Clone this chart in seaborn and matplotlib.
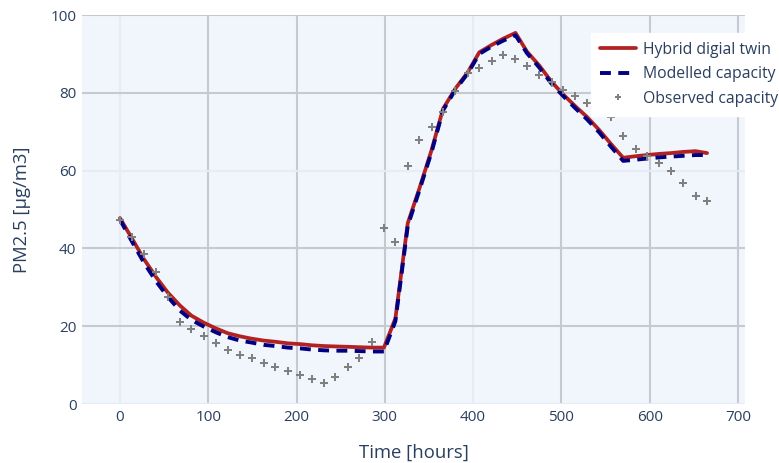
import matplotlib
matplotlib.use("Agg")
import matplotlib.pyplot as plt
import seaborn as sns
import pandas as pd
from matplotlib.lines import Line2D

# ---- data ----
time_hours = [0, 14, 27, 41, 54, 68, 81, 95, 109, 122, 136, 149, 163, 176, 190,
              204, 217, 231, 244, 258, 271, 285, 299, 312, 326, 339, 353, 366,
              380, 394, 407, 421, 434, 448, 461, 475, 489, 502, 516, 529, 543,
              556, 570, 584, 597, 611, 624, 638, 652, 665]

hybrid_twin = [47.8, 42.4, 37.3, 32.6, 28.7, 25.3, 22.7, 20.9, 19.4, 18.2,
               17.4, 16.8, 16.3, 16.0, 15.6, 15.4, 15.1, 14.9, 14.8, 14.7,
               14.6, 14.5, 14.5, 22.0, 46.5, 55.3, 65.3, 75.9, 81.1, 85.3,
               90.4, 92.3, 93.9, 95.4, 90.6, 87.0, 82.8, 79.6, 76.5, 73.8,
               70.4, 66.9, 63.3, 63.7, 64.0, 64.3, 64.5, 64.8, 65.0, 64.5]

modelled_capacity = [47.4, 41.6, 36.4, 31.5, 27.6, 24.0, 21.6, 19.9, 18.4, 17.2,
                     16.3, 15.8, 15.2, 14.9, 14.5, 14.3, 14.0, 13.8, 13.7, 13.7,
                     13.6, 13.5, 13.5, 21.3, 45.8, 54.8, 64.8, 75.5, 80.8, 85.0,
                     90.0, 91.9, 93.4, 94.8, 90.2, 86.5, 82.3, 79.2, 76.0, 73.2,
                     69.8, 66.2, 62.5, 62.8, 63.1, 63.4, 63.6, 63.8, 64.0, 64.0]

observed_capacity = [47.3, 43.0, 38.6, 34.0, 27.4, 21.0, 19.2, 17.5, 15.6, 13.9,
                     12.6, 11.8, 10.6, 9.6, 8.5, 7.5, 6.4, 5.4, 7.0, 9.5,
                     11.9, 16.0, 45.3, 41.7, 61.2, 67.8, 71.2, 75.1, 80.4, 85.0,
                     86.5, 88.1, 89.7, 88.8, 86.8, 84.7, 82.7, 80.7, 79.1, 77.4,
                     75.6, 73.8, 68.8, 65.5, 63.7, 61.9, 60.0, 56.9, 53.4, 52.2]

x_ticks = [0, 100, 200, 300, 400, 500, 600, 700]
y_ticks = [0, 20, 40, 60, 80, 100]
light_x = [0, 400]
light_y = [0, 60]

series_names = ["Hybrid digial twin", "Modelled capacity", "Observed capacity"]

# ---- styling ----
sns.set_style("white")
plt.rcParams["font.family"] = ["Open Sans", "DejaVu Sans"]
TEXT = "#2a3f5f"
BG = "#F1F5FC"
GRID_DARK = "#C5C9D0"
GRID_LIGHT = "#E6ECF5"

df = pd.DataFrame({
    "t": time_hours,
    "hybrid": hybrid_twin,
    "model": modelled_capacity,
    "obs": observed_capacity,
})

fig = plt.figure(figsize=(7.79, 4.63), dpi=100)
ax = fig.add_axes([82 / 779, 1 - 404 / 463, (745 - 82) / 779, (404 - 15) / 463])
ax.set_facecolor(BG)

for xv in x_ticks:
    ax.axvline(xv, color=GRID_LIGHT if xv in light_x else GRID_DARK, lw=1.5, zorder=0.5)
for yv in y_ticks:
    ax.axhline(yv, color=GRID_LIGHT if yv in light_y else GRID_DARK, lw=1.5, zorder=0.5)

sns.lineplot(data=df, x="t", y="hybrid", ax=ax, color="#B22222", lw=2.7,
             zorder=3, sort=False)
sns.lineplot(data=df, x="t", y="model", ax=ax, color="#000080", lw=2.8,
             zorder=4, sort=False, dashes=False)
ax.lines[-1].set_dashes((2.8, 1.9))
sns.scatterplot(data=df, x="t", y="obs", ax=ax, color="#808080", marker="P",
                s=26, linewidth=0, zorder=5)

ax.set_xlim(-43, 708)
ax.set_ylim(0, 100)
ax.set_xticks(x_ticks)
ax.set_yticks(y_ticks)
ax.tick_params(axis="both", length=0, labelsize=11, labelcolor=TEXT, pad=4)
for s in ax.spines.values():
    s.set_visible(False)
ax.set_xlabel("Time [hours]", fontsize=13.3, color=TEXT, labelpad=14)
ax.set_ylabel("PM2.5 [µg/m3]", fontsize=13.3, color=TEXT, labelpad=14)

handles = [
    Line2D([], [], color="#B22222", lw=2.7),
    Line2D([], [], color="#000080", lw=2.8, dashes=(2.8, 1.9)),
    Line2D([], [], color="#808080", marker="P", ls="none", markersize=5,
           markeredgewidth=0),
]
leg = fig.legend(handles, series_names, loc="upper left",
                 bbox_to_anchor=(591 / 779, 1 - 33 / 463), frameon=True,
                 fancybox=False, facecolor="white", edgecolor="white",
                 framealpha=1, fontsize=11.3, handlelength=2.3, handletextpad=0.45,
                 labelspacing=0.55, borderpad=0.55, borderaxespad=0)
for t in leg.get_texts():
    t.set_color(TEXT)

fig.savefig("out.png", dpi=100)
